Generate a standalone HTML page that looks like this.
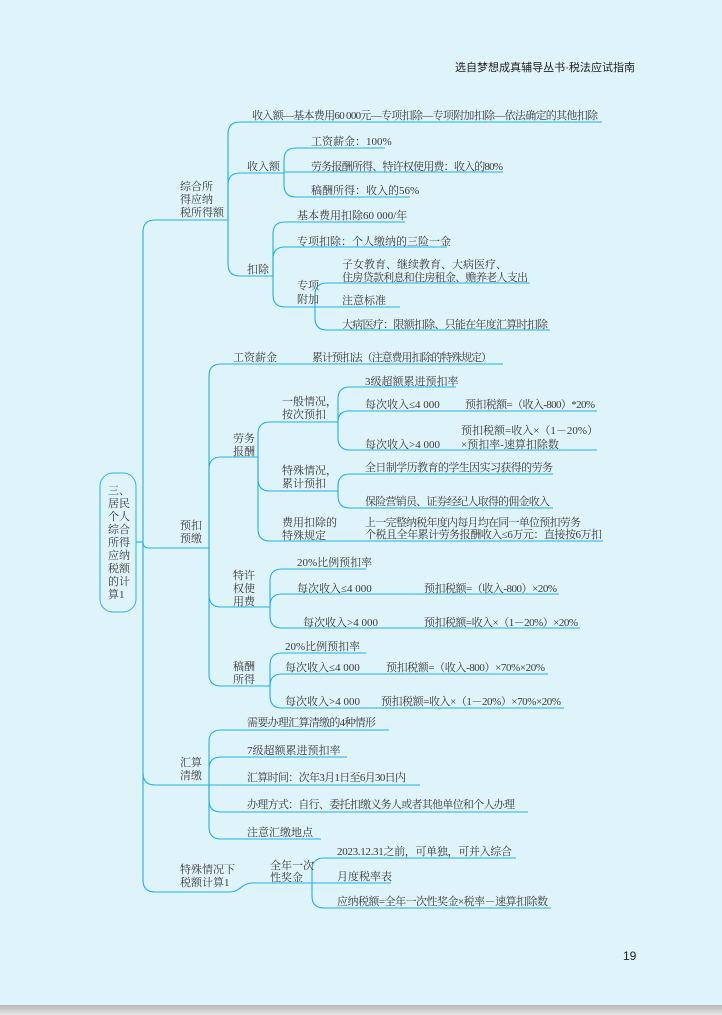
<!DOCTYPE html>
<html><head><meta charset="utf-8"><style>
html,body{margin:0;padding:0;width:722px;height:1015px;overflow:hidden;background:#dff3fa;}
svg{display:block}
text{font-family:"Liberation Serif","Noto Serif CJK SC","Noto Sans CJK SC",serif;font-size:11px;fill:#3a3a3a}
.h{font-family:"Liberation Sans","Noto Sans CJK SC",sans-serif;font-size:11px;fill:#222}
</style></head><body>
<svg width="722" height="1015" xmlns="http://www.w3.org/2000/svg">
<defs><linearGradient id="g" x1="0" y1="0" x2="0" y2="1"><stop offset="0" stop-color="#b8b8b8"/><stop offset="1" stop-color="#e6e6e6"/></linearGradient></defs>
<rect x="0" y="0" width="722" height="1005" fill="#dff3fa"/>
<rect x="0" y="1005" width="722" height="10" fill="url(#g)"/>
<text class="h" x="455" y="71" textLength="180">选自梦想成真辅导丛书·税法应试指南</text>
<text class="h" x="623" y="960" style="font-size:12px">19</text>

<rect x="100" y="473" width="36" height="139" rx="13" fill="none" stroke="#29b3e6" stroke-width="1"/>
<g fill="none" stroke="#1fb0e8" stroke-width="1.1">
<path d="M136,542 L143,542"/>
<path d="M143,542 L143,232 Q143,220 155,220 L228,220"/>
<path d="M143,542 Q143,548 149,548 L209,548"/>
<path d="M143,542 L143,773 Q143,785 155,785 L235,785"/>
<path d="M143,773 L143,880 Q143,892 155,892 L230,892 C240,892 242,883 252,883 L312,883"/>
<path d="M228,220 L228,134 Q228,122 240,122 L602,122"/>
<path d="M228,220 L228,185 Q228,173 240,173 L284,173"/>
<path d="M228,220 L228,264 Q228,276 240,276 L273,276"/>
<path d="M284,173 L284,160 Q284,148 296,148 L385,148"/>
<path d="M284,172 L503,172"/>
<path d="M284,173 L284,185 Q284,197 296,197 L410,197"/>
<path d="M273,276 L273,234 Q273,222 285,222 L405,222"/>
<path d="M273,276 L273,259 Q273,247 285,247 L447,247"/>
<path d="M273,276 L273,295 Q273,307 285,307 L315,307"/>
<path d="M315,307 L315,295 Q315,283 327,283 L530,283"/>
<path d="M315,307 L400,307"/>
<path d="M315,307 L315,318 Q315,330 327,330 L550,330"/>
<path d="M209,548 L209,376 Q209,364 221,364 L503,364"/>
<path d="M209,548 L209,469 Q209,457 221,457 L258,457"/>
<path d="M209,548 L209,595 Q209,607 221,607 L270,607"/>
<path d="M209,548 L209,674 Q209,686 221,686 L270,686"/>
<path d="M258,457 L258,434 Q258,422 270,422 L338,422"/>
<path d="M258,457 L258,479 Q258,491 270,491 L338,491"/>
<path d="M258,457 L258,529 Q258,541 270,541 L603,541"/>
<path d="M338,422 L338,399 Q338,387 350,387 L456,387"/>
<path d="M338,422 Q338,411 349,411 L597,411"/>
<path d="M338,422 L338,438 Q338,450 350,450 L597,450"/>
<path d="M338,491 L338,486 Q338,474 350,474 L553,474"/>
<path d="M338,491 L338,496 Q338,508 350,508 L553,508"/>
<path d="M270,607 L270,581 Q270,569 282,569 L366,569"/>
<path d="M270,607 L270,606 Q270,594 282,594 L559,594"/>
<path d="M270,607 L270,616 Q270,628 282,628 L580,628"/>
<path d="M270,686 L270,665 Q270,653 282,653 L366,653"/>
<path d="M270,686 Q270,674 282,674 L548,674"/>
<path d="M270,686 L270,696 Q270,708 282,708 L564,708"/>
<path d="M209,785 L209,742 Q209,730 221,730 L389,730"/>
<path d="M209,785 L209,769 Q209,757 221,757 L347,757"/>
<path d="M209,785 L420,785"/>
<path d="M209,785 L209,800 Q209,812 221,812 L528,812"/>
<path d="M209,785 L209,827 Q209,839 221,839 L321,839"/>
<path d="M312,883 L312,870 Q312,858 324,858 L516,858"/>
<path d="M312,883 L391,883"/>
<path d="M312,883 L312,896 Q312,908 324,908 L551,908"/>
</g>

<text x="108" y="494">三、</text>
<text x="108" y="507">居民</text>
<text x="108" y="520">个人</text>
<text x="108" y="533">综合</text>
<text x="108" y="546">所得</text>
<text x="108" y="559">应纳</text>
<text x="108" y="572">税额</text>
<text x="108" y="585">的计</text>
<text x="108" y="598">算1</text>

<text x="252" y="119" textLength="346">收入额—基本费用60 000元—专项扣除—专项附加扣除—依法确定的其他扣除</text>
<text x="180" y="190">综合所</text>
<text x="180" y="203">得应纳</text>
<text x="180" y="216">税所得额</text>
<text x="247" y="170">收入额</text>
<text x="311" y="145">工资薪金：100%</text>
<text x="311" y="170" textLength="192">劳务报酬所得、特许权使用费：收入的80%</text>
<text x="311" y="194">稿酬所得：收入的56%</text>
<text x="247" y="273">扣除</text>
<text x="297" y="219">基本费用扣除60 000/年</text>
<text x="297" y="245">专项扣除：个人缴纳的三险一金</text>
<text x="297" y="289">专项</text>
<text x="297" y="303">附加</text>
<text x="342" y="268">子女教育、继续教育、大病医疗、</text>
<text x="342" y="281" textLength="186">住房贷款利息和住房租金、赡养老人支出</text>
<text x="342" y="304">注意标准</text>
<text x="342" y="328" textLength="206">大病医疗：限额扣除、只能在年度汇算时扣除</text>

<text x="233" y="361">工资薪金</text>
<text x="312" y="361" textLength="180">累计预扣法（注意费用扣除的特殊规定）</text>
<text x="233" y="442">劳务</text>
<text x="233" y="455">报酬</text>
<text x="282" y="405">一般情况，</text>
<text x="282" y="418">按次预扣</text>
<text x="365" y="385">3级超额累进预扣率</text>
<text x="365" y="408">每次收入≤4 000</text>
<text x="465" y="408" textLength="130">预扣税额=（收入-800）*20%</text>
<text x="461" y="434">预扣税额=收入×（1－20%）</text>
<text x="461" y="448">×预扣率-速算扣除数</text>
<text x="365" y="448">每次收入&gt;4 000</text>
<text x="282" y="474">特殊情况，</text>
<text x="282" y="487">累计预扣</text>
<text x="365" y="471" textLength="188">全日制学历教育的学生因实习获得的劳务</text>
<text x="365" y="505" textLength="185">保险营销员、证券经纪人取得的佣金收入</text>
<text x="282" y="526">费用扣除的</text>
<text x="282" y="539">特殊规定</text>
<text x="365" y="526" textLength="216">上一完整纳税年度内每月均在同一单位预扣劳务</text>
<text x="365" y="538" textLength="237">个税且全年累计劳务报酬收入≤6万元：直接按6万扣</text>
<text x="180" y="529">预扣</text>
<text x="180" y="542">预缴</text>
<text x="233" y="579">特许</text>
<text x="233" y="592">权使</text>
<text x="233" y="605">用费</text>
<text x="297" y="566">20%比例预扣率</text>
<text x="297" y="592">每次收入≤4 000</text>
<text x="424" y="592" textLength="133">预扣税额=（收入-800）×20%</text>
<text x="303" y="626">每次收入&gt;4 000</text>
<text x="424" y="626" textLength="154">预扣税额=收入×（1－20%）×20%</text>

<text x="233" y="670">稿酬</text>
<text x="233" y="683">所得</text>
<text x="285" y="650">20%比例预扣率</text>
<text x="285" y="671">每次收入≤4 000</text>
<text x="386" y="671" textLength="159">预扣税额=（收入-800）×70%×20%</text>
<text x="285" y="705">每次收入&gt;4 000</text>
<text x="381" y="705" textLength="180">预扣税额=收入×（1－20%）×70%×20%</text>

<text x="247" y="726" textLength="129">需要办理汇算清缴的4种情形</text>
<text x="247" y="754">7级超额累进预扣率</text>
<text x="247" y="781" textLength="159">汇算时间：次年3月1日至6月30日内</text>
<text x="247" y="808" textLength="268">办理方式：自行、委托扣缴义务人或者其他单位和个人办理</text>
<text x="247" y="836">注意汇缴地点</text>
<text x="180" y="766">汇算</text>
<text x="180" y="779">清缴</text>
<text x="180" y="873">特殊情况下</text>
<text x="180" y="886">税额计算1</text>
<text x="270" y="869">全年一次</text>
<text x="270" y="881">性奖金</text>
<text x="337" y="855" textLength="175">2023.12.31之前，可单独，可并入综合</text>
<text x="337" y="880">月度税率表</text>
<text x="337" y="905" textLength="211">应纳税额=全年一次性奖金×税率－速算扣除数</text>
</svg>
</body></html>
